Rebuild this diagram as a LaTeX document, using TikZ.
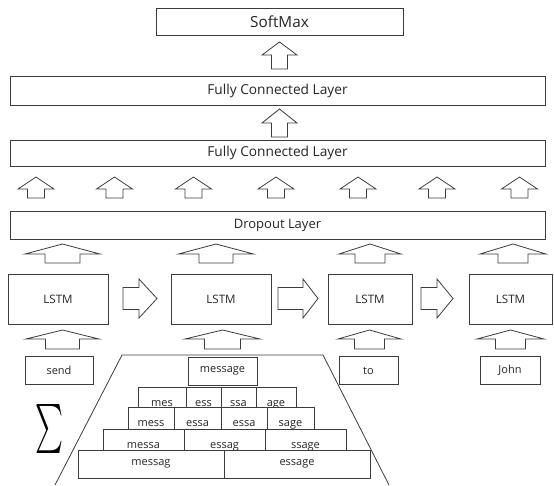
\documentclass[tikz,border=0pt]{standalone}
\usepackage{fontspec}
\usepackage{graphicx}
\setmainfont{Open Sans}
\definecolor{ln}{HTML}{3C3C3C}
\definecolor{tx}{HTML}{262626}
\newcommand{\UpBlk}[6]{% cx, top, headbase, bottom, headhalf, shafthalf
  \draw[blk] (#1,#2) -- (#1+#5,#3) -- (#1+#6,#3) -- (#1+#6,#4) -- (#1-#6,#4) -- (#1-#6,#3) -- (#1-#5,#3) -- cycle;}
\newcommand{\RtBlk}[6]{% x0, xhead, xtip, yc, headhalf, shafthalf
  \draw[blk] (#3,#4) -- (#2,#4-#5) -- (#2,#4-#6) -- (#1,#4-#6) -- (#1,#4+#6) -- (#2,#4+#6) -- (#2,#4+#5) -- cycle;}
\tikzset{
  blk/.style={draw=ln, line width=0.8pt, fill=white, line join=miter},
  box/.style={draw=ln, line width=0.8pt, fill=white, inner sep=0pt, text=tx, font=\fontsize{13.7}{15}\selectfont},
  lstm/.style={box, font=\fontsize{11.6}{13}\selectfont},
  word/.style={box, font=\fontsize{11}{12}\selectfont},
  cell/.style={box, font=\fontsize{11}{12}\selectfont},
}
\begin{document}
\begin{tikzpicture}[x=1pt,y=-1pt]
\useasboundingbox (0,0) rectangle (554,485);
% layers
\node[box, minimum width=247pt, minimum height=27pt, font=\fontsize{15.3}{17}\selectfont] (sm) at (279.5,21.5) {SoftMax};
\node[box, minimum width=535pt, minimum height=29pt] (fc1) at (277.5,90.5) {Fully Connected Layer};
\node[box, minimum width=535pt, minimum height=26pt] (fc2) at (277.5,153) {Fully Connected Layer};
\node[box, minimum width=535pt, minimum height=28pt, font=\fontsize{13}{15}\selectfont] (drop) at (277.5,225) {Dropout Layer};
% LSTM
\node[lstm, minimum width=100pt, minimum height=50pt] (l1) at (58,299) {LSTM};
\node[lstm, minimum width=100pt, minimum height=50pt] (l2) at (221,299) {LSTM};
\node[lstm, minimum width=84pt, minimum height=50pt] (l3) at (370,299) {LSTM};
\node[lstm, minimum width=83pt, minimum height=50pt] (l4) at (510.5,299) {LSTM};
% words
\node[word, minimum width=68pt, minimum height=28pt] (w1) at (59,370) {send};
\node[word, minimum width=59pt, minimum height=28pt] (w3) at (368.5,370.5) {to};
\node[word, minimum width=60pt, minimum height=28pt] (w4) at (510,370.5) {John};
% up arrows
\UpBlk{279.5}{42}{55}{69}{17.5}{8}
\UpBlk{279.5}{109}{123}{137}{17.5}{8}
\foreach \cx in {36,114.5,193.5,276,358,437,519.5}{\UpBlk{\cx}{177}{189}{198}{18}{8.5}}
\UpBlk{62.5}{244}{254}{263}{37.5}{17.5}
\UpBlk{216}{244}{254}{263}{37.5}{17}
\UpBlk{370}{244}{254}{263}{31}{15}
\UpBlk{513}{244}{254}{263}{33}{15}
\UpBlk{62.5}{330}{339}{349}{36.5}{17}
\UpBlk{222.5}{330}{339}{349}{37.5}{18}
\UpBlk{369.5}{330}{339}{349}{31.5}{15}
\UpBlk{510.5}{330}{339}{349}{33.5}{15}
% right arrows
\RtBlk{123}{139}{157}{298.5}{19.5}{11}
\RtBlk{278}{303}{318}{298.5}{19.5}{11}
\RtBlk{421}{437}{453}{298.5}{19.5}{11}
% trapezoid
\coordinate (tl) at (122,355);
\coordinate (tr) at (323,355);
\coordinate (bl) at (55,485);
\coordinate (br) at (389,485);
\draw[ln, line width=0.8pt] (bl) -- (tl) -- (tr) -- (br);
% pyramid
\node[word, minimum width=69pt, minimum height=28pt] (msg) at (222.5,371) {message};
\node[cell, minimum width=48pt, text height=19pt, text depth=1pt] (a1) at (162,397) {mes};
\node[cell, minimum width=35pt, text height=19pt, text depth=1pt] (a2) at (203.5,397) {ess};
\node[cell, minimum width=35pt, text height=19pt, text depth=1pt] (a3) at (238.5,397) {ssa};
\node[cell, minimum width=40pt, text height=19pt, text depth=1pt] (a4) at (276,397) {age};
\node[cell, minimum width=46pt, text height=19pt, text depth=3pt] (b1) at (151,418) {mess};
\node[cell, minimum width=47pt, text height=19pt, text depth=3pt] (b2) at (197.5,418) {essa};
\node[cell, minimum width=46pt, text height=19pt, text depth=3pt] (b3) at (244,418) {essa};
\node[cell, minimum width=47pt, text height=19pt, text depth=3pt] (b4) at (290.5,418) {sage};
\node[cell, minimum width=81pt, text height=19pt, text depth=2pt] (c1) at (143.5,439.5) {messa};
\node[cell, minimum width=81pt, text height=19pt, text depth=2pt] (c2) at (224.5,439.5) {essag};
\node[cell, minimum width=81pt, text height=19pt, text depth=2pt] (c3) at (305.5,439.5) {ssage};
\node[cell, minimum width=146pt, minimum height=28pt] (d1) at (151,464) {messag};
\node[cell, minimum width=146pt, minimum height=28pt] (d2) at (297,464) {essage};
% sigma
\node[text=black, inner sep=0pt] (sig) at (50,428.5) {\resizebox*{28pt}{49pt}{$\sum$}};
\end{tikzpicture}
\end{document}
